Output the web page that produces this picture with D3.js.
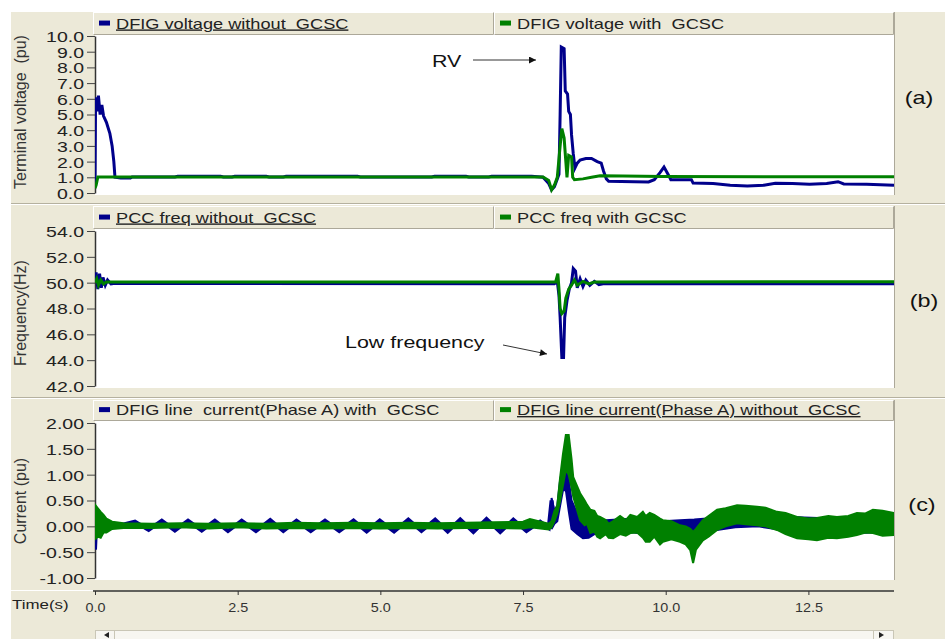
<!DOCTYPE html>
<html>
<head>
<meta charset="utf-8">
<script src="https://cdn.jsdelivr.net/npm/d3@7"></script>
<style>
  body { margin: 0; background: #fff; }
  svg { display: block; font-family: "Liberation Sans", Arial, sans-serif; }
  text { white-space: pre; }
</style>
</head>
<body>
<svg id="chart" width="945" height="639"></svg>
<script>
// ---- data ----
const timeTicks = [0, 2.5, 5, 7.5, 10, 12.5]
const voltTicks = [0, 1, 2, 3, 4, 5, 6, 7, 8, 9, 10]
const freqTicks = [42, 44, 46, 48, 50, 52, 54]
const currTicks = [-1, -0.5, 0, 0.5, 1, 1.5, 2]

// (a) terminal voltage, pu  [t, v]
const voltWithout = [
  [0, 0.4], [0.01, 6.1], [0.04, 5.2], [0.06, 6.2], [0.09, 5.0], [0.12, 5.6], [0.15, 4.9],
  [0.2, 4.5], [0.26, 3.8], [0.3, 3.0], [0.33, 2.0], [0.35, 1.0], [0.45, 0.95], [0.62, 0.95],
  [0.65, 1.02], [1.4, 1.02], [1.45, 1.07], [2.2, 1.07], [2.25, 1.02], [2.4, 1.02], [2.45, 1.07],
  [3.0, 1.07], [3.05, 1.02], [3.3, 1.02], [3.35, 1.07], [4.6, 1.07], [4.65, 1.02], [5.9, 1.02],
  [5.95, 1.07], [6.5, 1.07], [6.55, 1.02], [6.9, 1.02], [6.95, 1.07], [7.65, 1.07], [7.85, 1.0],
  [7.95, 0.6], [8.0, 0.2], [8.05, 0.4], [8.1, 0.9],
  [8.13, 1.2], [8.15, 5.0], [8.17, 9.3], [8.22, 9.2], [8.24, 6.5], [8.28, 6.3], [8.3, 5.2],
  [8.33, 5.0], [8.35, 3.7], [8.38, 2.5], [8.41, 1.6], [8.45, 1.9], [8.5, 2.1], [8.6, 2.2],
  [8.7, 2.2], [8.8, 2.0], [8.87, 1.9], [8.91, 1.4], [8.96, 0.9], [9.0, 0.75], [9.45, 0.72],
  [9.7, 0.7], [9.8, 0.85], [9.9, 1.3], [9.97, 1.65], [10.04, 1.2], [10.09, 0.85], [10.45, 0.85],
  [10.48, 0.63], [10.83, 0.6], [11.13, 0.5], [11.43, 0.45], [11.72, 0.5], [11.92, 0.62],
  [12.22, 0.6], [12.52, 0.55], [12.82, 0.6], [13.02, 0.72], [13.12, 0.58], [13.52, 0.55], [14.0, 0.5]
]
const voltWith = [
  [0, 0.3], [0.02, 0.5], [0.05, 1.02], [7.85, 1.02], [7.95, 0.8], [8.0, 0.2], [8.05, 0.5],
  [8.1, 1.0], [8.15, 3.0], [8.18, 4.1], [8.22, 3.5], [8.25, 2.0], [8.27, 1.0], [8.3, 2.4],
  [8.35, 2.3], [8.37, 1.0], [8.4, 0.85], [8.55, 0.9], [8.7, 1.0], [8.85, 1.1], [9.25, 1.08],
  [9.95, 1.05], [14.0, 1.03]
]

// (b) PCC frequency, Hz  [t, f]
const freqWithout = [
  [0, 50.1], [0.02, 50.8], [0.05, 49.5], [0.08, 50.7], [0.11, 49.6], [0.14, 50.4], [0.18, 49.8],
  [0.22, 50.2], [0.28, 49.9], [0.35, 49.95], [8.05, 49.92], [8.1, 50.1], [8.13, 49.0], [8.15, 47.3],
  [8.18, 44.2], [8.21, 44.2], [8.23, 47.3], [8.27, 48.6], [8.31, 49.5], [8.35, 50.0], [8.38, 51.1],
  [8.42, 50.9], [8.45, 49.6], [8.5, 50.3], [8.55, 49.7], [8.6, 50.2], [8.67, 49.8], [8.75, 50.1],
  [8.83, 49.85], [8.9, 49.92], [14.0, 49.92]
]
const freqWith = [
  [0, 50.0], [0.03, 50.3], [0.06, 49.8], [0.1, 50.2], [0.15, 49.9], [0.2, 50.05], [0.3, 50.05],
  [8.07, 50.05], [8.11, 50.7], [8.13, 49.5], [8.15, 48.0], [8.18, 47.6], [8.22, 47.8], [8.25, 48.8],
  [8.3, 49.5], [8.35, 49.8], [8.4, 50.2], [8.45, 49.8], [8.55, 50.1], [8.65, 49.9], [8.75, 50.05],
  [14.0, 50.08]
]

// (c) line current phase A, pu
const currWithLine = [
  [0, -0.45], [0.03, 0.3], [0.06, -0.2], [0.1, 0.15], [0.15, -0.05], [0.25, 0.05], [0.45, 0.02],
  [0.7, 0.09], [0.94, -0.07], [1.17, 0.11], [1.4, -0.08], [1.63, 0.11], [1.87, -0.08], [2.1, 0.11],
  [2.33, -0.09], [2.57, 0.11], [2.82, -0.09], [3.07, 0.12], [3.3, -0.09], [3.53, 0.11], [3.78, -0.09],
  [4.03, 0.11], [4.28, -0.09], [4.53, 0.11], [4.76, -0.1], [4.99, 0.11], [5.24, -0.1], [5.49, 0.13],
  [5.72, -0.09], [5.96, 0.13], [6.18, -0.1], [6.4, 0.13], [6.63, -0.11], [6.86, 0.14], [7.1, -0.11],
  [7.33, 0.13], [7.56, -0.09], [7.8, 0.09], [7.95, -0.03], [8.0, 0.5], [8.04, 0.1]
]
// [t, low, high] envelopes of the thick traces
const currWithBand = [
  [8.0, -0.05, 0.55], [8.05, 0.05, 0.3], [8.1, 0.1, 0.4], [8.15, 0.4, 0.9], [8.2, 0.7, 1.15],
  [8.25, 0.7, 1.15], [8.3, 0.3, 0.9], [8.35, -0.05, 0.5], [8.45, -0.15, 0.25], [8.55, -0.23, 0.1],
  [8.65, -0.22, 0.05], [8.75, -0.15, 0.1], [8.95, -0.12, 0.12], [9.45, -0.12, 0.15], [9.95, -0.2, 0.1],
  [10.25, -0.15, 0.12], [10.5, -0.1, 0.13], [10.72, -0.1, 0.15], [11.22, -0.02, 0.3], [11.62, 0.0, 0.3],
  [11.92, -0.05, 0.2], [12.42, -0.1, 0.17], [12.92, -0.15, 0.15], [13.62, -0.12, 0.2], [14.0, -0.1, 0.2]
]
const currWithoutBand = [
  [0, -0.25, 0.42], [0.05, -0.2, 0.35], [0.1, -0.22, 0.28], [0.15, -0.12, 0.22], [0.2, -0.12, 0.15],
  [0.3, -0.05, 0.09], [0.5, -0.03, 0.06], [1.0, -0.03, 0.05], [1.5, -0.02, 0.06], [2.0, -0.04, 0.05],
  [2.5, -0.02, 0.06], [3.0, -0.04, 0.05], [3.5, -0.03, 0.07], [4.0, -0.04, 0.06], [4.5, -0.03, 0.07],
  [5.0, -0.04, 0.06], [5.5, -0.03, 0.07], [6.0, -0.04, 0.06], [6.5, -0.03, 0.07], [7.0, -0.03, 0.08],
  [7.5, -0.04, 0.09], [7.62, -0.02, 0.14], [7.95, -0.06, 0.05], [8.0, -0.02, 0.1], [8.05, 0.1, 0.3],
  [8.1, 0.25, 0.4], [8.15, 0.5, 0.95], [8.2, 0.8, 1.4], [8.25, 1.1, 1.77], [8.3, 1.0, 1.77],
  [8.35, 0.75, 1.3], [8.38, 0.57, 0.95], [8.5, 0.12, 0.64], [8.58, 0.02, 0.5], [8.62, 0.05, 0.42],
  [8.68, -0.13, 0.32], [8.75, -0.1, 0.3], [8.8, -0.2, 0.2], [8.85, -0.23, 0.18], [8.95, -0.15, 0.12],
  [9.0, -0.22, 0.05], [9.08, -0.23, 0.1], [9.2, -0.15, 0.2], [9.3, -0.18, 0.12], [9.38, -0.13, 0.22],
  [9.5, -0.12, 0.18], [9.6, -0.22, 0.28], [9.65, -0.3, 0.2], [9.72, -0.3, 0.26], [9.8, -0.2, 0.22],
  [9.9, -0.35, 0.15], [9.95, -0.3, 0.12], [10.1, -0.25, 0.1], [10.25, -0.3, 0.02], [10.35, -0.35, 0.0],
  [10.43, -0.46, -0.05], [10.48, -0.71, -0.11], [10.53, -0.45, -0.05], [10.65, -0.27, 0.12],
  [10.75, -0.2, 0.2], [10.9, -0.07, 0.32], [11.05, 0.0, 0.35], [11.25, 0.06, 0.41], [11.4, 0.04, 0.4],
  [11.6, 0.02, 0.38], [11.75, 0.0, 0.36], [11.95, -0.07, 0.28], [12.1, -0.15, 0.26], [12.3, -0.23, 0.18],
  [12.5, -0.25, 0.15], [12.65, -0.27, 0.16], [12.85, -0.22, 0.2], [13.0, -0.23, 0.18], [13.2, -0.2, 0.2],
  [13.35, -0.17, 0.26], [13.5, -0.12, 0.25], [13.63, -0.13, 0.32], [13.8, -0.18, 0.3], [14.0, -0.17, 0.26]
]

// ---- drawing ----
const blue = '#00008b'
const green = '#008000'
const beige = '#ece9d8'
const SX = 1.3   // the original screenshot text is stretched sideways

const svg = d3.select('#chart')
const x = d3.scaleLinear().domain([0, 14]).range([95, 894])

svg.append('rect').attr('x', 11).attr('y', 12).attr('width', 934).attr('height', 627).attr('fill', beige)

const stretchText = (g, tx, ty, str, size, anchor) =>
  g.append('text')
    .attr('transform', `translate(${tx},${ty}) scale(${SX},1)`)
    .attr('font-size', size)
    .attr('text-anchor', anchor || 'start')
    .attr('xml:space', 'preserve')
    .text(str)

const panels = [
  { legendTop: 12, plotTop: 35, plotBottom: 195, domain: [0, 10], range: [193, 36], ticks: voltTicks,
    fmt: d => d.toFixed(1), label: 'Terminal voltage  (pu)', labelY: 112, tag: '(a)', tagX: 919, tagY: 104,
    legend: [{ text: 'DFIG voltage without  GCSC', color: blue, under: true },
             { text: 'DFIG voltage with  GCSC', color: green }] },
  { legendTop: 206, plotTop: 229, plotBottom: 388, domain: [42, 54], range: [386, 231], ticks: freqTicks,
    fmt: d => d.toFixed(1), label: 'Frequency(Hz)', labelY: 313, tag: '(b)', tagX: 924, tagY: 307,
    legend: [{ text: 'PCC freq without  GCSC', color: blue, under: true },
             { text: 'PCC freq with GCSC', color: green }] },
  { legendTop: 400, plotTop: 421, plotBottom: 580, domain: [-1, 2], range: [578, 423], ticks: currTicks,
    fmt: d => d.toFixed(2), label: 'Current (pu)', labelY: 501, tag: '(c)', tagX: 922, tagY: 511,
    legend: [{ text: 'DFIG line  current(Phase A) with  GCSC', color: blue },
             { text: 'DFIG line current(Phase A) without  GCSC', color: green, under: true }] }
]

// separators between the panels
;[203.5, 397.5].forEach(sy => {
  svg.append('line').attr('x1', 11).attr('x2', 945).attr('y1', sy).attr('y2', sy).attr('stroke', '#b5b19f')
  svg.append('line').attr('x1', 11).attr('x2', 945).attr('y1', sy + 1).attr('y2', sy + 1).attr('stroke', '#fff')
})

panels.forEach((p, i) => {
  const g = svg.append('g')
  const y = d3.scaleLinear().domain(p.domain).range(p.range)
  p.y = y

  // legend bar
  const lh = p.plotTop - p.legendTop
  ;[[93, 494], [494, 894]].forEach(([a, b], k) => {
    g.append('rect').attr('x', a + 0.5).attr('y', p.legendTop + 0.5).attr('width', b - a - 1).attr('height', lh - 1)
      .attr('fill', beige).attr('stroke', '#fff')
    g.append('path').attr('d', `M${a + 0.5},${p.plotTop - 0.5}H${b - 0.5}V${p.legendTop + 0.5}`)
      .attr('fill', 'none').attr('stroke', '#aca899')
    const item = p.legend[k]
    const base = p.legendTop + lh * 0.72
    g.append('rect').attr('x', a + 6).attr('y', base - 8).attr('width', 11).attr('height', 5).attr('fill', item.color)
    stretchText(g, a + 23, base, item.text, 14).attr('fill', '#222')
      .attr('text-decoration', item.under ? 'underline' : null)
  })

  // plot area
  g.append('rect').attr('x', 95).attr('y', p.plotTop).attr('width', 799).attr('height', p.plotBottom - p.plotTop)
    .attr('fill', '#fff')
  g.append('line').attr('x1', 894.5).attr('x2', 894.5).attr('y1', p.legendTop).attr('y2', p.plotBottom)
    .attr('stroke', '#aca899')

  // y axis
  const ax = g.append('g').attr('transform', 'translate(95,0)')
    .call(d3.axisLeft(y).tickValues(p.ticks).tickSize(8).tickSizeOuter(0).tickFormat(p.fmt))
  ax.select('.domain').attr('stroke', '#333').attr('stroke-width', 1.5)
  ax.selectAll('.tick line').attr('stroke', '#444')
  ax.selectAll('.tick text')
    .attr('x', 0).attr('dy', '0.36em')
    .attr('transform', `translate(-11,0) scale(${SX},1)`)
    .attr('font-size', 15).attr('font-family', '"Liberation Sans", Arial, sans-serif').attr('fill', '#222')

  g.append('text')
    .attr('transform', `translate(26,${p.labelY}) rotate(-90)`)
    .attr('text-anchor', 'middle').attr('font-size', 16).attr('fill', '#333')
    .attr('xml:space', 'preserve')
    .text(p.label)

  stretchText(g, p.tagX, p.tagY, p.tag, 18, 'middle').attr('fill', '#111')

  svg.append('clipPath').attr('id', 'clip' + i)
    .append('rect').attr('x', 95).attr('y', p.plotTop).attr('width', 799).attr('height', p.plotBottom - p.plotTop)
  p.plot = svg.append('g').attr('clip-path', `url(#clip${i})`)
})

const line = y => d3.line().x(d => x(d[0])).y(d => y(d[1]))
const band = y => d3.area().x(d => x(d[0])).y0(d => y(d[1])).y1(d => y(d[2]))

// (a)
const pa = panels[0]
pa.plot.append('path').attr('d', line(pa.y)(voltWithout)).attr('fill', 'none').attr('stroke', blue).attr('stroke-width', 3)
pa.plot.append('path').attr('d', line(pa.y)(voltWith)).attr('fill', 'none').attr('stroke', green).attr('stroke-width', 3)

// (b)
const pb = panels[1]
pb.plot.append('path').attr('d', line(pb.y)(freqWithout)).attr('fill', 'none').attr('stroke', blue).attr('stroke-width', 3)
pb.plot.append('path').attr('d', line(pb.y)(freqWith)).attr('fill', 'none').attr('stroke', green).attr('stroke-width', 3)

// (c)
const pc = panels[2]
pc.plot.append('path').attr('d', line(pc.y)(currWithLine)).attr('fill', 'none').attr('stroke', blue).attr('stroke-width', 4)
pc.plot.append('path').attr('d', band(pc.y)(currWithBand)).attr('fill', blue).attr('stroke', blue).attr('stroke-width', 2)
pc.plot.append('path').attr('d', band(pc.y)(currWithoutBand)).attr('fill', green).attr('stroke', green).attr('stroke-width', 2)

// annotations
const defs = svg.append('defs')
defs.append('marker').attr('id', 'arrow').attr('viewBox', '0 0 10 10').attr('refX', 10).attr('refY', 5)
  .attr('markerWidth', 9).attr('markerHeight', 7).attr('markerUnits', 'userSpaceOnUse').attr('orient', 'auto')
  .append('path').attr('d', 'M0,0L10,5L0,10z').attr('fill', '#111')

stretchText(svg, 432, 67, 'RV', 16.5).attr('fill', '#111')
svg.append('line').attr('x1', 473).attr('y1', 60).attr('x2', 536).attr('y2', 60)
  .attr('stroke', '#333').attr('marker-end', 'url(#arrow)')
stretchText(svg, 345, 348, 'Low frequency', 16.5).attr('fill', '#111')
svg.append('line').attr('x1', 503).attr('y1', 345).attr('x2', 547).attr('y2', 354)
  .attr('stroke', '#333').attr('marker-end', 'url(#arrow)')

// time axis
svg.append('line').attr('x1', 11).attr('x2', 93).attr('y1', 590.5).attr('y2', 590.5).attr('stroke', '#fff')
const xa = svg.append('g').attr('transform', 'translate(0,591)')
  .call(d3.axisBottom(x).tickValues(timeTicks).tickSize(4).tickSizeOuter(0).tickFormat(d3.format('.1f')))
xa.select('.domain').attr('stroke', '#333').attr('stroke-width', 1.5).attr('d', 'M93,0H894')
xa.selectAll('.tick line').attr('stroke', '#333')
xa.selectAll('.tick text')
  .attr('y', 0).attr('dy', 0)
  .attr('transform', 'translate(0,21) scale(1.15,1)')
  .attr('font-size', 12.5).attr('font-family', '"Liberation Sans", Arial, sans-serif').attr('fill', '#333')
stretchText(svg, 12, 609, 'Time(s)', 13).attr('fill', '#222')

// scrollbar
svg.append('rect').attr('x', 95.5).attr('y', 630.5).attr('width', 798).attr('height', 10)
  .attr('fill', '#f7f6f1').attr('stroke', '#c9c6b6')
svg.append('path').attr('d', 'M104,635L109,632V638z').attr('fill', '#222')
svg.append('path').attr('d', 'M884,635L879,632V638z').attr('fill', '#222')
svg.append('line').attr('x1', 114.5).attr('x2', 114.5).attr('y1', 631).attr('y2', 639).attr('stroke', '#c9c6b6')
svg.append('line').attr('x1', 873.5).attr('x2', 873.5).attr('y1', 631).attr('y2', 639).attr('stroke', '#c9c6b6')
</script>
</body>
</html>
